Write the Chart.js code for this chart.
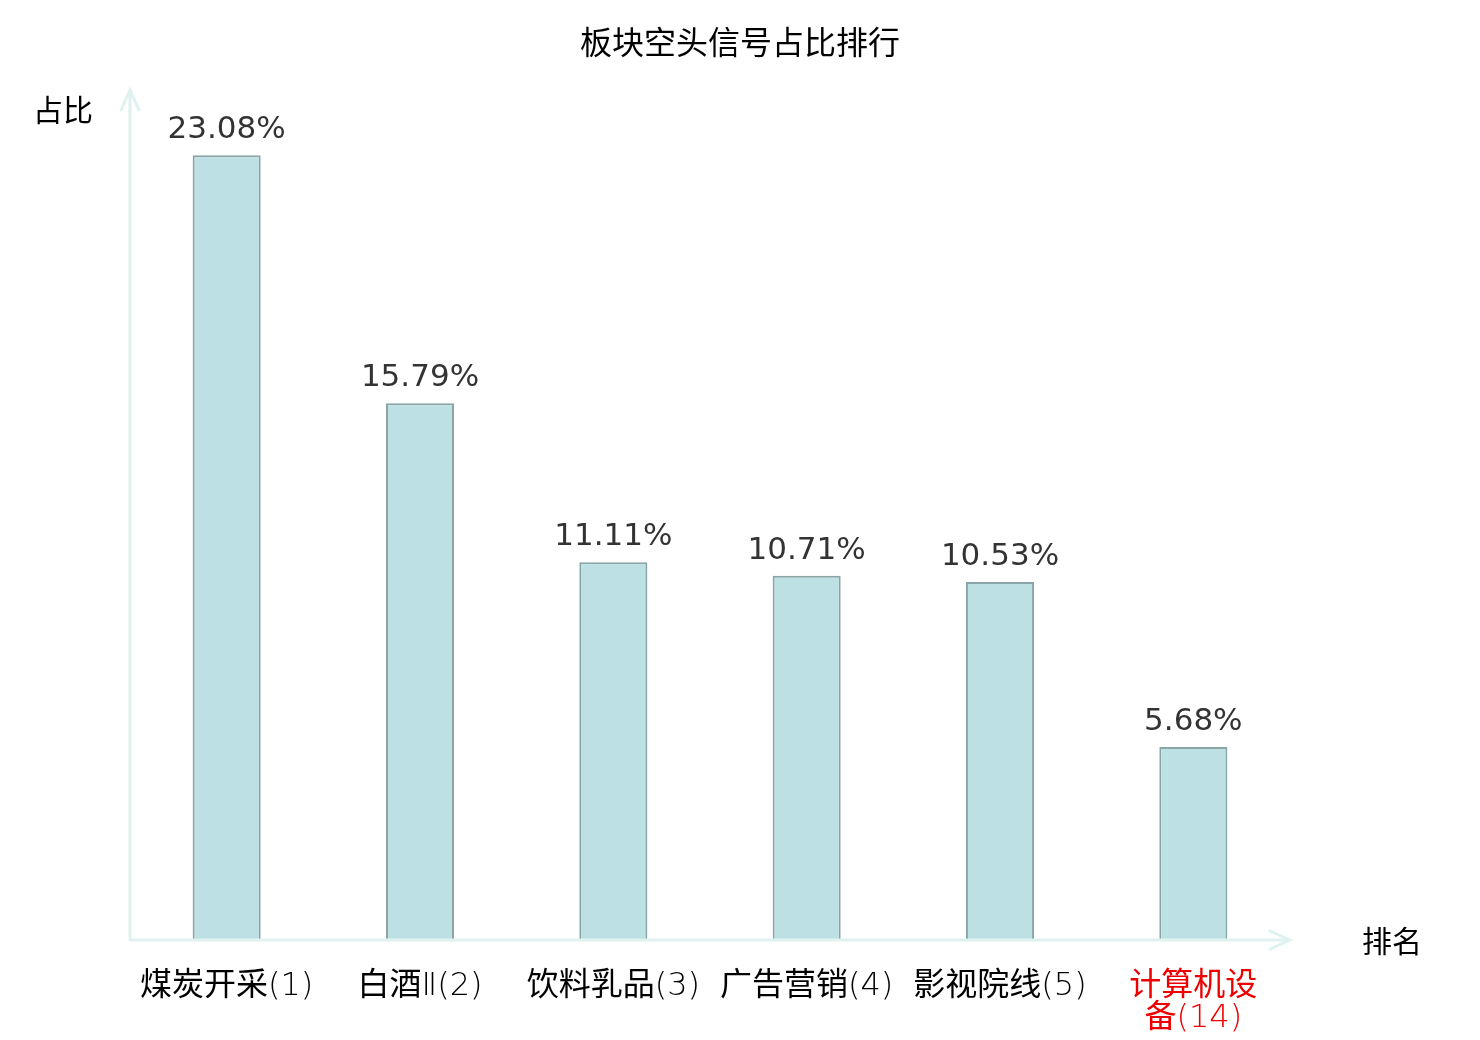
<!DOCTYPE html>
<html>
<head>
<meta charset="utf-8">
<script src="https://cdn.jsdelivr.net/npm/chart.js@4.4.0/dist/chart.umd.min.js"></script>
<style>
html,body{margin:0;padding:0;background:#fff;}
#wrap{width:1480px;height:1040px;}
</style>
</head>
<body>
<div id="wrap"><canvas id="c" width="1480" height="1040"></canvas></div>
<script>
const categories = [["煤炭开采(1)"], ["白酒Ⅱ(2)"], ["饮料乳品(3)"], ["广告营销(4)"], ["影视院线(5)"], ["计算机设", "备(14)"]];
const values = [23.08, 15.79, 11.11, 10.71, 10.53, 5.68];
const valueLabels = ["23.08%", "15.79%", "11.11%", "10.71%", "10.53%", "5.68%"];
const labelColors = ["#000000", "#000000", "#000000", "#000000", "#000000", "#ee0000"];
const chartTitle = "板块空头信号占比排行";
const yTitle = "占比";
const xTitle = "排名";

const CJK = '"Noto Sans CJK SC", "Noto Sans", sans-serif';
const TICKFONT = '"DejaVu Sans Light", "Noto Sans CJK SC", sans-serif';
const AXIS = '#dff2f0';

const overlay = {
  id: 'overlay',
  afterDraw(chart) {
    const ctx = chart.ctx;
    const a = chart.chartArea;
    const ys = chart.scales.y;
    const y0 = ys.getPixelForValue(0);
    ctx.save();
    ctx.strokeStyle = AXIS;
    ctx.lineWidth = 3;
    ctx.lineCap = 'round';
    ctx.beginPath();
    ctx.moveTo(a.left, y0); ctx.lineTo(a.right, y0);
    ctx.moveTo(a.left, y0); ctx.lineTo(a.left, a.top);
    ctx.moveTo(a.right - 20, y0 - 9); ctx.lineTo(a.right, y0); ctx.lineTo(a.right - 20, y0 + 9);
    ctx.moveTo(a.left - 9, a.top + 20); ctx.lineTo(a.left, a.top); ctx.lineTo(a.left + 9, a.top + 20);
    ctx.stroke();
    ctx.fillStyle = '#333333';
    ctx.font = '31px "DejaVu Sans", sans-serif';
    ctx.textAlign = 'center';
    ctx.textBaseline = 'alphabetic';
    const meta = chart.getDatasetMeta(0);
    meta.data.forEach((bar, i) => {
      ctx.fillText(valueLabels[i], bar.x, bar.y - 17);
    });
    ctx.fillStyle = '#000000';
    ctx.textBaseline = 'middle';
    ctx.font = '32px ' + CJK;
    ctx.fillText(chartTitle, chart.width / 2, 42);
    ctx.font = '30px ' + CJK;
    ctx.fillText(yTitle, 63, 110);
    ctx.fillText(xTitle, 1392, 941);
    ctx.restore();
  }
};

new Chart(document.getElementById('c'), {
  type: 'bar',
  data: {
    labels: categories,
    datasets: [{
      data: values,
      backgroundColor: '#bce0e3',
      borderColor: '#8aa5a6',
      borderWidth: 2,
      borderSkipped: 'bottom',
      categoryPercentage: 1,
      barPercentage: 0.352
    }]
  },
  options: {
    responsive: false,
    animation: false,
    devicePixelRatio: 1,
    layout: { padding: { left: 130, right: 190, top: 90, bottom: 0 } },
    plugins: {
      legend: { display: false },
      tooltip: { enabled: false },
      title: { display: false }
    },
    scales: {
      x: {
        grid: { display: false, drawTicks: false },
        border: { display: false },
        ticks: {
          color: (c) => labelColors[c.index],
          font: { family: TICKFONT, size: 32, lineHeight: 1.0 },
          padding: 31,
          maxRotation: 0,
          autoSkip: false
        },
        afterFit(s) { s.height = 100; }
      },
      y: {
        display: false,
        min: 0,
        max: 25
      }
    }
  },
  plugins: [overlay]
});
</script>
</body>
</html>
